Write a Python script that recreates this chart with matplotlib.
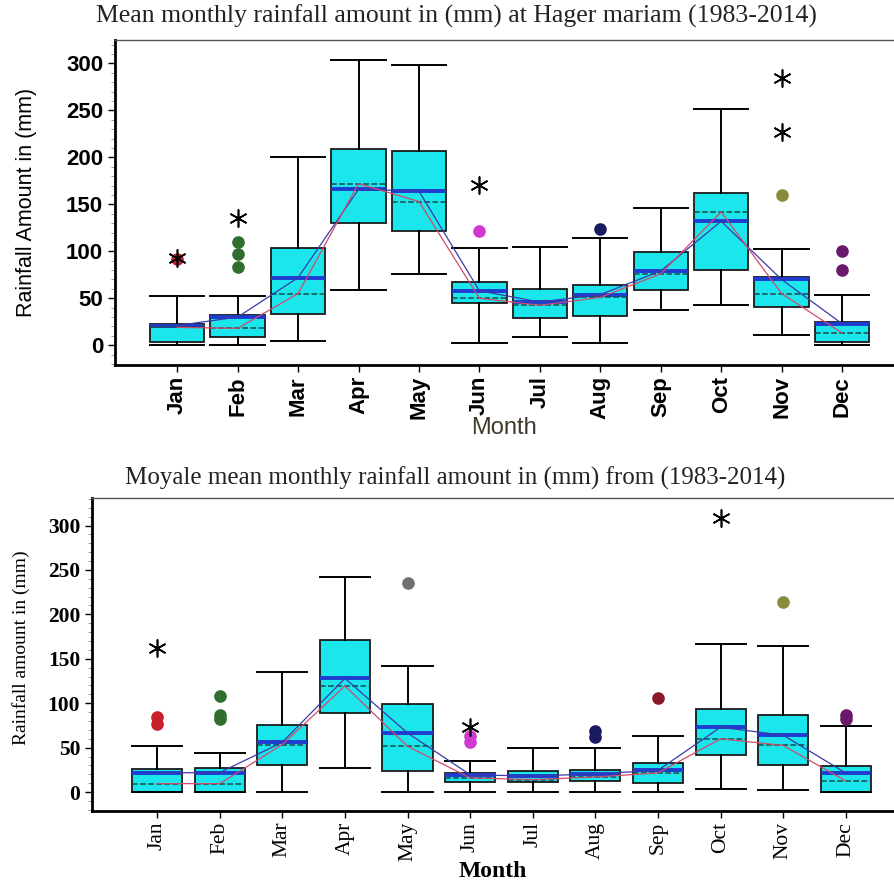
import numpy as np
import matplotlib
matplotlib.use("Agg")
import matplotlib.pyplot as plt
from matplotlib.ticker import MultipleLocator

months = ['Jan', 'Feb', 'Mar', 'Apr', 'May', 'Jun', 'Jul', 'Aug', 'Sep', 'Oct', 'Nov', 'Dec']

# Hager mariam (top)
hm_q1 = [3.5, 9, 33, 130, 122, 44.5, 29.5, 31, 59, 80, 41, 3.5]
hm_q3 = [23, 32, 103, 209, 207, 67.5, 60, 64, 99, 162, 73, 25]
hm_med = [21, 30, 72, 166, 164, 58, 46, 54, 79, 132, 70, 23]
hm_mean = [19, 18, 55, 172, 153, 50, 42.5, 51, 76, 142, 55, 13]
hm_lo = [0, 0, 4, 59, 76, 2, 9, 2, 38, 43, 11, 0]
hm_hi = [52, 52, 200, 304, 298, 103, 105, 114, 146, 251, 102, 53]
hm_dot_month = ['Jan', 'Feb', 'Feb', 'Feb', 'Jun', 'Aug', 'Nov', 'Dec', 'Dec']
hm_dot_val = [92, 110, 97, 83, 122, 124, 160, 100, 80]
hm_star_month = ['Jan', 'Feb', 'Jun', 'Nov', 'Nov']
hm_star_val = [93, 135, 171, 227, 284]

# Moyale (bottom)
my_q1 = [0, 0, 30, 89.5, 23.5, 11, 11, 12.5, 10.5, 41.5, 30, 0]
my_q3 = [25.5, 27, 75, 171, 99, 22, 23.5, 25, 32.5, 94, 87, 29.5]
my_med = [21.5, 22, 56, 128, 66.5, 19.5, 18, 20.5, 24.5, 73, 64, 21.5]
my_mean = [9.5, 9.5, 53.5, 119.5, 51.5, 16, 14, 17, 21.5, 60, 52.5, 12.5]
my_lo = [0, 0, 0, 27.5, 0, 0, 0, 0, 0, 4, 2, 0]
my_hi = [51.5, 44, 135, 242, 141.5, 35.5, 50, 50, 63, 167, 164, 74]
my_dot_month = ['Jan', 'Jan', 'Feb', 'Feb', 'Feb', 'May', 'Jun', 'Jun', 'Aug', 'Aug', 'Sep', 'Nov', 'Dec', 'Dec']
my_dot_val = [84, 77, 108, 87, 82, 235.5, 63, 56, 69, 62, 106, 214, 87, 82]
my_star_month = ['Jan', 'Jun', 'Oct']
my_star_val = [162, 73, 309]

dot_colors = {'Jan': '#c8202a', 'Feb': '#2f6e2f', 'May': '#707070', 'Jun': '#d038d0',
              'Aug': '#1a1a60', 'Sep': '#8a1a2a', 'Nov': '#8a8a3a', 'Dec': '#6a1a6a'}


def draw_panel(ax, q1, q3, med, mean, lo, hi, dmon, dval, smon, sval, width):
    x = np.arange(1, len(months) + 1)
    stats = []
    for i in range(len(months)):
        stats.append(dict(med=med[i], q1=q1[i], q3=q3[i], whislo=lo[i], whishi=hi[i],
                          mean=mean[i], fliers=[]))
    ax.bxp(stats, positions=x, widths=width, patch_artist=True, showmeans=True,
           meanline=True, showfliers=False,
           boxprops=dict(facecolor='#1ae6ec', edgecolor='#1a1a1a', linewidth=1.3),
           medianprops=dict(color='#1f3bd0', linewidth=2.8),
           meanprops=dict(color='#1a4a4a', linestyle='--', linewidth=1.1),
           whiskerprops=dict(color='black', linewidth=1.4),
           capprops=dict(color='black', linewidth=1.4),
           capwidths=width)
    ax.plot(x, med, color='#3a3aa8', lw=0.9, zorder=5)
    ax.plot(x, mean, color='#d04a6a', lw=0.9, zorder=5)
    idx = {m: i + 1 for i, m in enumerate(months)}
    for m, v in zip(dmon, dval):
        ax.scatter(idx[m], v, s=65, color=dot_colors[m], zorder=6)
    ax.scatter([idx[m] for m in smon], sval, marker=(6, 2, 0), s=150,
               color='black', linewidths=1.2, zorder=7)
    ax.set_xticks(x)
    ax.set_xticklabels(months, rotation=90)
    ax.yaxis.set_major_locator(MultipleLocator(50))
    ax.yaxis.set_minor_locator(MultipleLocator(10))
    ax.spines['right'].set_visible(False)
    ax.spines['left'].set_linewidth(2)
    ax.spines['bottom'].set_linewidth(2)
    ax.spines['top'].set_linewidth(1)
    ax.spines['top'].set_color('#555555')
    ax.tick_params(axis='y', which='major', length=5, width=1)
    ax.tick_params(axis='y', which='minor', length=3, width=0.6, color='#888888')
    ax.tick_params(axis='x', length=5, width=1, pad=3)


fig = plt.figure(figsize=(8.94, 8.82), dpi=100)

# top panel
ax1 = fig.add_axes([0.1286, 0.5862, 0.8714, 0.3685])
draw_panel(ax1, hm_q1, hm_q3, hm_med, hm_mean, hm_lo, hm_hi,
           hm_dot_month, hm_dot_val, hm_star_month, hm_star_val, 0.9)
ax1.set_xlim(-0.03, 12.86)
ax1.set_ylim(-21, 325)
for lab in ax1.get_yticklabels() + ax1.get_xticklabels():
    lab.set_family('Liberation Sans')
    lab.set_fontweight('bold')
    lab.set_fontsize(16)
ax1.set_ylabel('Rainfall Amount in (mm)', family=['Liberation Sans Narrow', 'Liberation Sans'],
               fontsize=15.5)
ax1.yaxis.set_label_coords(-0.10, 0.5)
ax1.set_xlabel('Month', family='Liberation Sans', fontsize=17, color='#40382a', labelpad=-2)
fig.text(0.511, 0.981, 'Mean monthly rainfall amount in (mm) at Hager mariam (1983-2014)',
         family='Liberation Serif', fontsize=18.5, ha='center', va='center', color='#222222')

# bottom panel
ax2 = fig.add_axes([0.1029, 0.0808, 0.8971, 0.3546])
draw_panel(ax2, my_q1, my_q3, my_med, my_mean, my_lo, my_hi,
           my_dot_month, my_dot_val, my_star_month, my_star_val, 0.8)
ax2.set_xlim(-0.04, 12.77)
ax2.set_ylim(-21, 331)
for lab in ax2.get_yticklabels():
    lab.set_family('Liberation Serif')
    lab.set_fontweight('bold')
    lab.set_fontsize(15.5)
for lab in ax2.get_xticklabels():
    lab.set_family('Liberation Serif')
    lab.set_fontsize(15.5)
ax2.set_ylabel('Rainfall amount in (mm)', family='Liberation Serif', fontsize=14)
ax2.yaxis.set_label_coords(-0.077, 0.52)
ax2.set_xlabel('Month', family='Liberation Serif', fontweight='bold', fontsize=17, labelpad=0)
fig.text(0.509, 0.458, 'Moyale mean monthly rainfall amount in (mm) from (1983-2014)',
         family='Liberation Serif', fontsize=18, ha='center', va='center', color='#222222')

fig.savefig('out.png', dpi=100)
